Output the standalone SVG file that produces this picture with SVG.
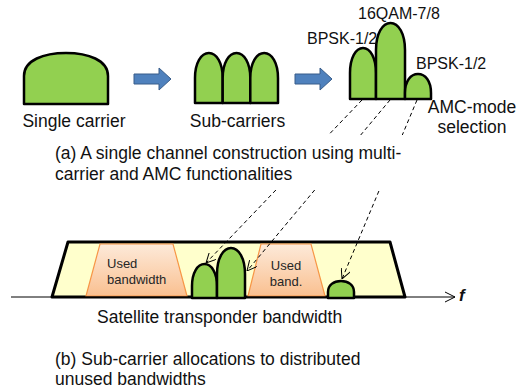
<svg xmlns="http://www.w3.org/2000/svg" width="531" height="392" viewBox="0 0 531 392">
<style>
text{font-family:"Liberation Sans",Arial,sans-serif;fill:#111}
.lbl{font-size:17.5px}
.mod{font-size:16px}
.small{font-size:13px;fill:#262626}
.car{fill:#92D050;stroke:#000;stroke-width:2.5;stroke-linejoin:round}
.blk{fill:#4F81BD;stroke:#385D8A;stroke-width:1}
.dash{fill:none;stroke:#000;stroke-width:1;stroke-dasharray:4,3}
.used{fill:url(#og);stroke:#F79646;stroke-width:1.2}
</style>
<defs>
<linearGradient id="og" x1="0" y1="0" x2="0" y2="1">
<stop offset="0" stop-color="#FDEADA"/>
<stop offset="1" stop-color="#FAC090"/>
</linearGradient>
<marker id="ah" viewBox="0 0 10 10" refX="10" refY="5" markerWidth="10" markerHeight="10" markerUnits="userSpaceOnUse" orient="auto">
<path d="M0,0 L10,5 L0,10" fill="none" stroke="#000" stroke-width="1"/>
</marker>
</defs>

<g id="single-carrier">
<path class="car" d="M24,104 V76 C24,60 44,53 66,53 C88,53 108,60 108,76 V104 Z"/>
<text class="lbl" x="74" y="127" text-anchor="middle">Single carrier</text>
</g>

<g id="arrow1"><path class="blk" d="M134,74 H159 V68 L171,79 L159,90 V84 H134 Z"/></g>

<g id="sub-carriers">
<path class="car" d="M195,103 V78 C195,63 201.1,53 208.9,53 C216.6,53 222.7,63 222.7,78 V103 Z"/>
<path class="car" d="M222.7,103 V78 C222.7,63 228.8,53 236.5,53 C244.2,53 250.3,63 250.3,78 V103 Z"/>
<path class="car" d="M250.3,103 V78 C250.3,63 256.4,53 264.2,53 C271.9,53 278,63 278,78 V103 Z"/>
<text class="lbl" x="237.5" y="127" text-anchor="middle">Sub-carriers</text>
</g>

<g id="arrow2"><path class="blk" d="M295,74 H320 V68 L332,79 L320,90 V84 H295 Z"/></g>

<g id="amc">
<path class="car" d="M350,99 V73 C350,58 355.7,48 363,48 C370.3,48 376,58 376,73 V99 Z"/>
<path class="car" d="M376,99 V50 C376,33.8 382.4,23 390.5,23 C398.6,23 405,33.8 405,50 V99 Z"/>
<path class="car" d="M405,99 V93 C405,81 410.7,74 418,74 C425.3,74 431,81 431,93 V99 Z"/>
<text class="mod" x="307" y="44">BPSK-1/2</text>
<text class="mod" x="358" y="19">16QAM-7/8</text>
<text class="mod" x="416" y="69">BPSK-1/2</text>
<text class="lbl" x="472" y="113" text-anchor="middle">AMC-mode</text>
<text class="lbl" x="472" y="133" text-anchor="middle">selection</text>
</g>

<g id="caption-a">
<text class="lbl" x="55" y="159">(a) A single channel construction using multi-</text>
<text class="lbl" x="55" y="180">carrier and AMC functionalities</text>
</g>

<g id="transponder">
<polygon points="68,242 390,242 405,297 52,297" fill="#FFFFCC" stroke="#000" stroke-width="3" stroke-linejoin="round"/>
</g>

<g id="used1">
<polygon class="used" points="100,244 173,244 187,296 86,296"/>
<text class="small" x="107" y="268">Used</text>
<text class="small" x="107" y="284">bandwidth</text>
</g>

<g id="used2">
<polygon class="used" points="261,244 311,244 325,296 248,296"/>
<text class="small" x="286" y="270" text-anchor="middle">Used</text>
<text class="small" x="286" y="286" text-anchor="middle">band.</text>
</g>

<g id="axis">
<line x1="11" y1="297" x2="455" y2="297" stroke="#000" stroke-width="1"/>
<path d="M445,292 L455,297 L445,302" fill="none" stroke="#000" stroke-width="1"/>
<text x="459" y="301" style="font-size:17px;font-style:italic;font-weight:bold">f</text>
</g>

<g id="allocated">
<path class="car" d="M192,298 V286 C192,272.8 197.5,264 204.5,264 C211.5,264 217,272.8 217,286 V298 Z"/>
<path class="car" d="M217,298 V274 C217,258.4 223.2,248 231,248 C238.8,248 245,258.4 245,274 V298 Z"/>
<path class="car" d="M328,298 V292 C328,285 333.7,281 341,281 C348.3,281 354,285 354,292 V298 Z"/>
</g>

<g id="connectors">
<path class="dash" d="M362,100 L328.5,135 M275.9,190 L206,263" marker-end="url(#ah)"/>
<path class="dash" d="M390,100 L360.7,135 M314.7,190 L247,271" marker-end="url(#ah)"/>
<path class="dash" d="M417,100 L402.3,135 M378.9,191 L342,279" marker-end="url(#ah)"/>
</g>

<g id="captions-b">
<text class="lbl" x="97" y="323">Satellite transponder bandwidth</text>
<text class="lbl" x="55" y="365">(b) Sub-carrier allocations to distributed</text>
<text class="lbl" x="55" y="385">unused bandwidths</text>
</g>
</svg>
